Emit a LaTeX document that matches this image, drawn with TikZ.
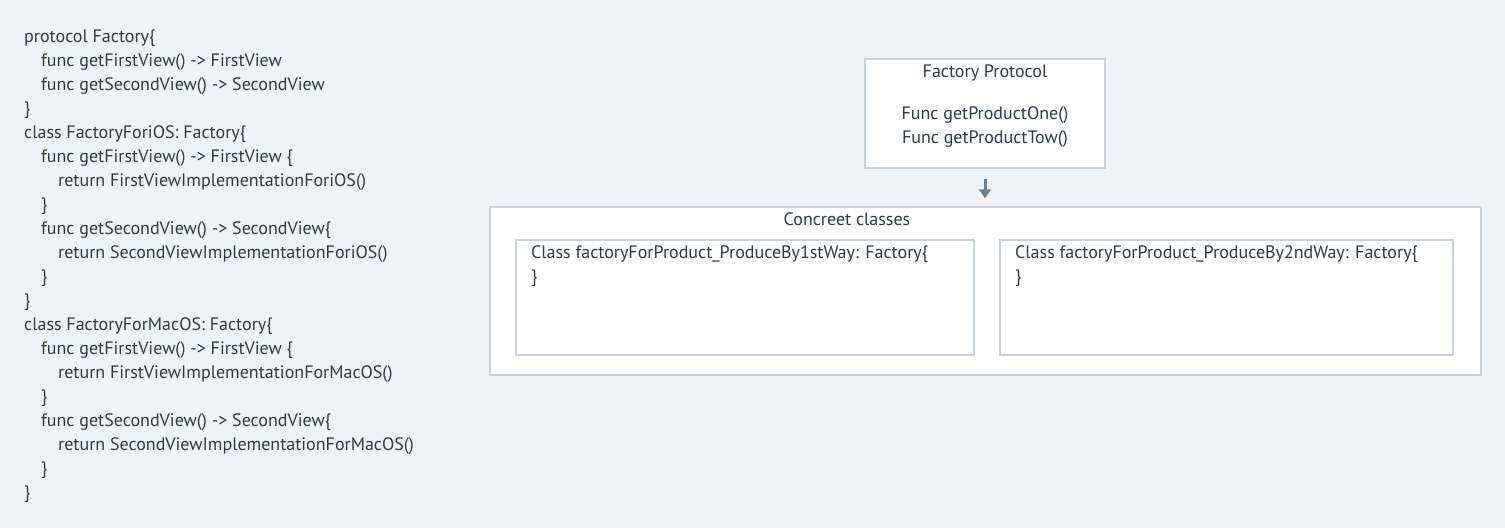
\documentclass[tikz,border=0pt]{standalone}
\usepackage{fontspec}
\setmainfont{PT Sans}
\usepackage{xcolor}
\usepackage{tikz}
\usetikzlibrary{arrows.meta}
\usetikzlibrary{positioning}

\definecolor{bgcol}{HTML}{EFF3F6}
\definecolor{linecol}{HTML}{C6D1DA}
\definecolor{txtcol}{HTML}{2E3A45}
\definecolor{arrcol}{HTML}{6F7E8B}

\tikzset{
    box/.style = {draw = linecol, line width = 1.5pt, fill = white, inner sep = 0pt},
    txt/.style = {text = txtcol, inner sep = 0pt, text height = 13pt, text depth = 2pt,
        font = \fontsize{18}{21}\selectfont},
    flow/.style = {draw = arrcol, line width = 3pt, -{Triangle[length = 9pt, width = 12pt]}}
}

\begin{document}
\begin{tikzpicture}[x = 1pt, y = -1pt]
        \fill[bgcol] (0, 0) rectangle (1505, 528);
        \useasboundingbox (0, 0) rectangle (1505, 528);

        % code on the left
        \node[txt, anchor = west] (c1) at (24, 37) {protocol Factory\{};
        \node[txt, anchor = west] (c2) at (41, 61) {func getFirstView() -> FirstView};
        \node[txt, anchor = west] (c3) at (41, 85) {func getSecondView() -> SecondView};
        \node[txt, anchor = west] (c4) at (24, 109) {\}};
        \node[txt, anchor = west] (c5) at (24, 133) {class FactoryForiOS: Factory\{};
        \node[txt, anchor = west] (c6) at (41, 157) {func getFirstView() -> FirstView \{};
        \node[txt, anchor = west] (c7) at (58, 181) {return FirstViewImplementationForiOS()};
        \node[txt, anchor = west] (c8) at (41, 205) {\}};
        \node[txt, anchor = west] (c9) at (41, 229) {func getSecondView() -> SecondView\{};
        \node[txt, anchor = west] (c10) at (58, 253) {return SecondViewImplementationForiOS()};
        \node[txt, anchor = west] (c11) at (41, 277) {\}};
        \node[txt, anchor = west] (c12) at (24, 301) {\}};
        \node[txt, anchor = west] (c13) at (24, 325) {class FactoryForMacOS: Factory\{};
        \node[txt, anchor = west] (c14) at (41, 349) {func getFirstView() -> FirstView \{};
        \node[txt, anchor = west] (c15) at (58, 373) {return FirstViewImplementationForMacOS()};
        \node[txt, anchor = west] (c16) at (41, 397) {\}};
        \node[txt, anchor = west] (c17) at (41, 421) {func getSecondView() -> SecondView\{};
        \node[txt, anchor = west] (c18) at (58, 445) {return SecondViewImplementationForMacOS()};
        \node[txt, anchor = west] (c19) at (41, 469) {\}};
        \node[txt, anchor = west] (c20) at (24, 493) {\}};

        % protocol box
        \node[box, minimum width = 240pt, minimum height = 109pt] (proto) at (985, 113.5) {};
        \node[txt] (protoname) at (985, 72) {Factory Protocol};
        \node[txt] (protoone) at (985, 114) {Func getProductOne()};
        \node[txt] (prototwo) at (985, 138) {Func getProductTow()};

        % concrete classes
        \node[box, minimum width = 991pt, minimum height = 168pt] (concrete) at (985.5, 291) {};
        \node[txt] (concretename) at (847, 220) {Concreet classes};
        \node[box, minimum width = 458pt, minimum height = 115pt] (first) at (745, 297.5) {};
        \node[box, minimum width = 453pt, minimum height = 115pt] (second) at (1226.5, 297.5) {};
        \node[txt, anchor = west] (firsttop) at (531, 253) {Class factoryForProduct\_ProduceBy1stWay: Factory\{};
        \node[txt, anchor = west] (firstend) at (531, 277) {\}};
        \node[txt, anchor = west] (secondtop) at (1015, 253) {Class factoryForProduct\_ProduceBy2ndWay: Factory\{};
        \node[txt, anchor = west] (secondend) at (1015, 277) {\}};

        \draw[flow, shorten <= 10pt, shorten >= 8pt] (proto) -- (proto |- concrete.north);
    \end{tikzpicture}
\end{document}
